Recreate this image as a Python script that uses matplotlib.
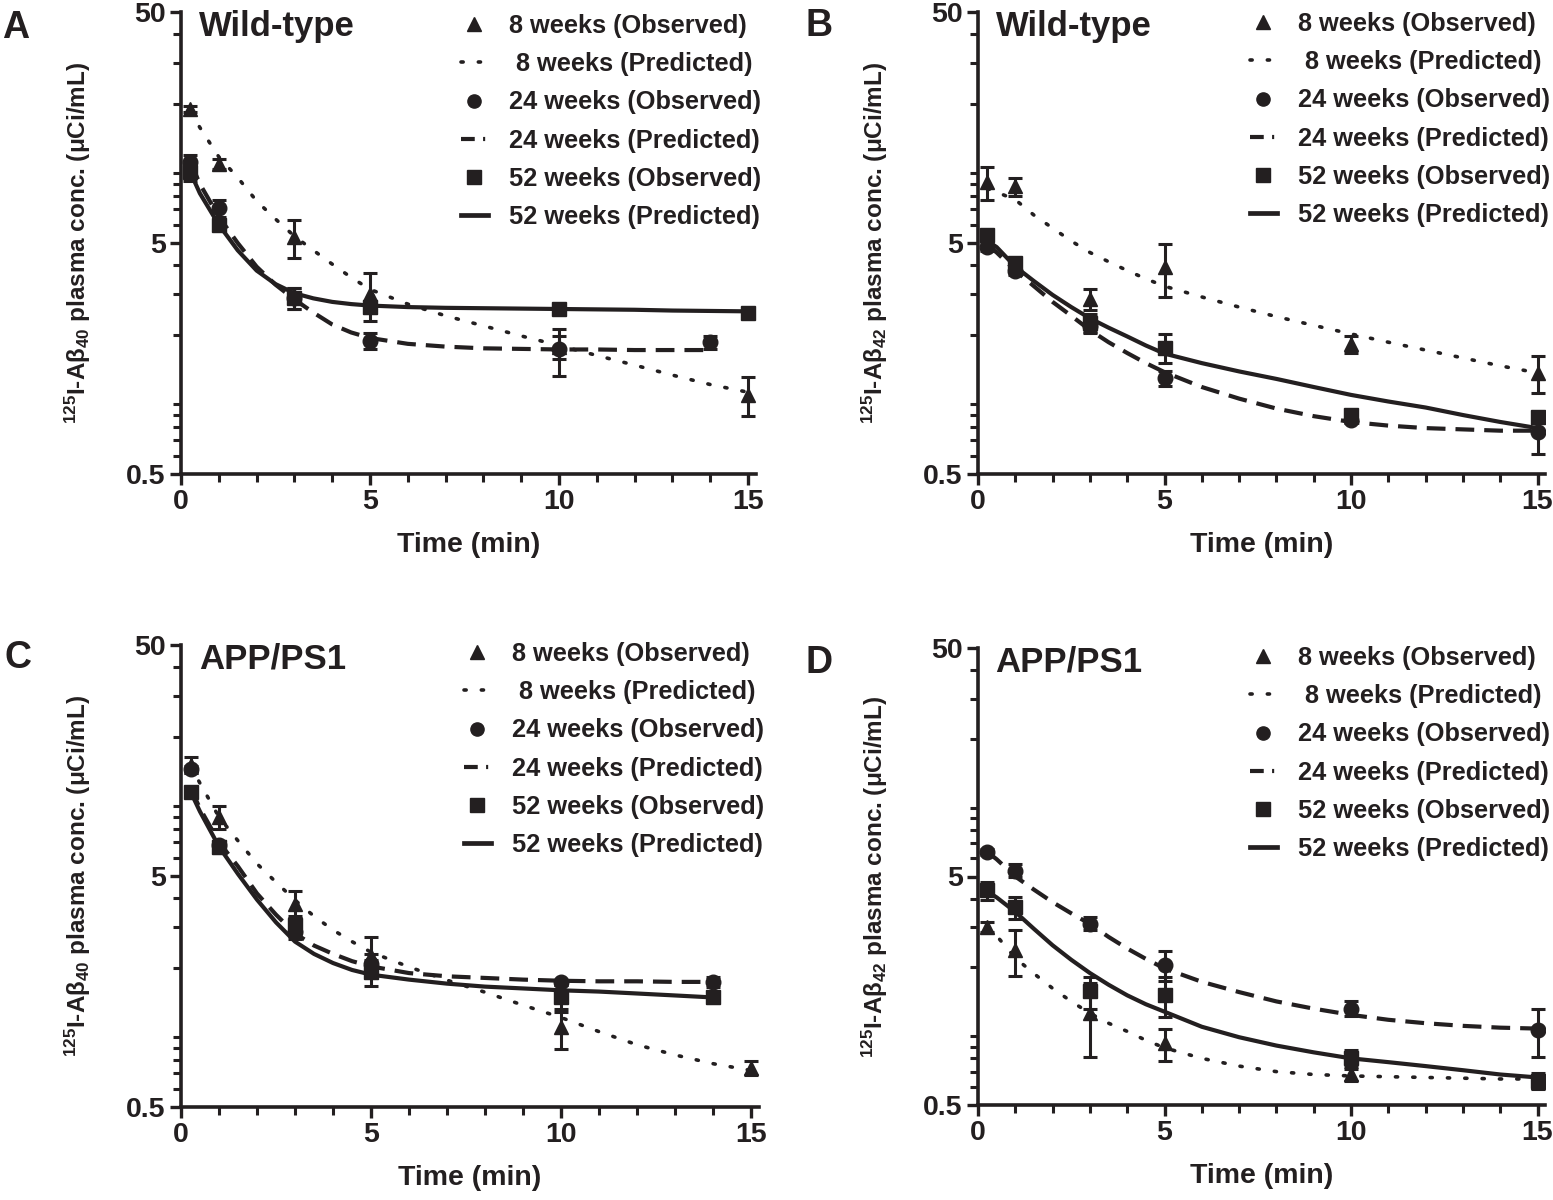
import numpy as np
import matplotlib
matplotlib.use("Agg")
import matplotlib.pyplot as plt
from matplotlib.lines import Line2D
from matplotlib.ticker import FixedLocator, NullFormatter, MultipleLocator

plt.rcParams['font.family'] = ['Liberation Sans', 'DejaVu Sans']
plt.rcParams['font.weight'] = 'bold'
plt.rcParams['mathtext.fontset'] = 'custom'
plt.rcParams['mathtext.rm'] = 'Liberation Sans:bold'
plt.rcParams['mathtext.bf'] = 'Liberation Sans:bold'
plt.rcParams['mathtext.it'] = 'Liberation Sans:bold'

INK = '#231f20'
W, H = 1553, 1200

# sampling times (min)
t_obs = [0.25, 1, 3, 5, 10, 15]
t_obs14 = [0.25, 1, 3, 5, 10, 14]
t_fit = [0.25, 0.5, 1, 1.5, 2, 2.5, 3, 3.5, 4, 4.5, 5, 6, 7, 8, 9, 10, 11, 12, 13, 14, 15]
t_fit14 = t_fit[:-1]

# Panel A - Wild-type, Abeta40
A_obs8 = [19.0, 11.0, 5.3, 3.0, 1.78, 1.1]
A_err8 = [0.5, 0.5, 1.0, 0.7, 0.2, 0.21]
A_obs24 = [11.2, 7.1, 2.9, 1.89, 1.73, 1.86]
A_err24 = [0.8, 0.6, 0.3, 0.15, 0.4, 0.12]
A_obs52 = [10.1, 6.0, 2.9, 2.63, 2.6, 2.5]
A_err52 = [0.8, 0.3, 0.3, 0.15, 0.08, 0.08]
A_fit8 = [18.5, 15.8, 11.8, 9.6, 7.6, 6.35, 5.35, 4.65, 4.05, 3.55, 3.15, 2.72, 2.42, 2.19,
          1.98, 1.80, 1.63, 1.48, 1.34, 1.22, 1.13]
A_fit24 = [11.2, 9.0, 6.5, 5.0, 3.95, 3.3, 2.85, 2.5, 2.22, 2.05, 1.94, 1.83, 1.78, 1.75,
           1.74, 1.73, 1.73, 1.72, 1.72, 1.72]
A_fit52 = [10.1, 8.2, 6.0, 4.65, 3.8, 3.32, 3.03, 2.88, 2.78, 2.72, 2.68, 2.64, 2.62, 2.61,
           2.60, 2.59, 2.58, 2.57, 2.55, 2.54, 2.53]

# Panel B - Wild-type, Abeta42
B_obs8 = [9.2, 8.8, 2.86, 3.93, 1.82, 1.37]
B_err8 = [1.5, 0.8, 0.3, 1.0, 0.15, 0.25]
B_obs24 = [4.8, 3.8, 2.19, 1.30, 0.86, 0.76]
B_err24 = [0.2, 0.15, 0.15, 0.1, 0.03, 0.15]
B_obs52 = [5.4, 4.1, 2.26, 1.76, 0.90, 0.88]
B_err52 = [0.3, 0.2, 0.2, 0.25, 0.03, 0.05]
B_fit8 = [8.6, 8.3, 7.7, 6.6, 5.8, 5.1, 4.55, 4.15, 3.8, 3.5, 3.25, 2.92, 2.64, 2.40,
          2.20, 2.02, 1.86, 1.72, 1.59, 1.47, 1.37]
B_fit24 = [4.9, 4.55, 3.8, 3.25, 2.78, 2.42, 2.1, 1.86, 1.67, 1.51, 1.38, 1.19, 1.06, 0.96,
           0.89, 0.84, 0.81, 0.79, 0.78, 0.77, 0.77]
B_fit52 = [5.1, 4.8, 3.95, 3.42, 2.98, 2.64, 2.36, 2.15, 1.97, 1.8, 1.66, 1.51, 1.39, 1.29,
           1.19, 1.10, 1.03, 0.97, 0.90, 0.84, 0.79]

# Panel C - APP/PS1, Abeta40
C_obs8 = [15.1, 9.0, 3.8, 2.26, 1.11, 0.74]
C_err8 = [1.2, 1.0, 0.5, 0.45, 0.22, 0.05]
C_obs24 = [14.5, 6.8, 2.86, 2.09, 1.73, 1.74]
C_err24 = [0.5, 0.3, 0.2, 0.2, 0.05, 0.08]
C_obs52 = [11.6, 6.7, 3.06, 1.92, 1.49, 1.49]
C_err52 = [0.5, 0.4, 0.3, 0.25, 0.2, 0.08]
C_fit8 = [15.0, 12.6, 9.0, 7.1, 5.65, 4.7, 3.93, 3.35, 2.92, 2.6, 2.34, 2.02, 1.77, 1.57,
          1.38, 1.22, 1.06, 0.93, 0.84, 0.77, 0.72]
C_fit24 = [12.0, 9.8, 7.0, 5.5, 4.2, 3.4, 2.82, 2.5, 2.3, 2.14, 2.03, 1.9, 1.84, 1.81,
           1.78, 1.76, 1.75, 1.75, 1.74, 1.74]
C_fit52 = [11.6, 9.5, 6.7, 5.1, 3.95, 3.15, 2.6, 2.3, 2.1, 1.96, 1.87, 1.78, 1.71, 1.66,
           1.63, 1.60, 1.58, 1.55, 1.52, 1.49]

# Panel D - APP/PS1, Abeta42
D_obs8 = [3.0, 2.38, 1.26, 0.93, 0.68, 0.63]
D_err8 = [0.15, 0.55, 0.45, 0.15, 0.04, 0.03]
D_obs24 = [6.4, 5.3, 3.11, 2.05, 1.32, 1.06]
D_err24 = [0.2, 0.35, 0.2, 0.3, 0.1, 0.25]
D_obs52 = [4.35, 3.67, 1.57, 1.51, 0.80, 0.64]
D_err52 = [0.4, 0.4, 0.25, 0.3, 0.07, 0.05]
D_fit8 = [3.0, 2.75, 2.2, 1.88, 1.62, 1.42, 1.26, 1.14, 1.05, 0.96, 0.89, 0.80, 0.74, 0.70,
          0.68, 0.67, 0.665, 0.66, 0.655, 0.65, 0.65]
D_fit24 = [6.4, 5.95, 5.0, 4.38, 3.86, 3.45, 3.1, 2.72, 2.42, 2.18, 1.98, 1.73, 1.56, 1.42,
           1.32, 1.24, 1.18, 1.14, 1.11, 1.09, 1.08]
D_fit52 = [4.3, 4.05, 3.5, 2.95, 2.5, 2.16, 1.89, 1.68, 1.51, 1.38, 1.28, 1.10, 0.99, 0.91,
           0.85, 0.80, 0.77, 0.74, 0.71, 0.68, 0.66]

legend_labels = ['8 weeks (Observed)', ' 8 weeks (Predicted)', '24 weeks (Observed)',
                 '24 weeks (Predicted)', '52 weeks (Observed)', '52 weeks (Predicted)']

DOT = (0, (0.6, 4.2))
DASH = (0, (4.5, 2.4))
DASH_KEY = (0, (3.3, 2.0, 0.5, 10))

# layout in pixels: axes (left, y of 0.5, px per min, y of 50), legend corner, letter corner
panels = [
    dict(letter='A', title='Wild-type', sub='40', ax_px=(181, 474, 37.8, 12), leg_px=(461, 14), let_px=(2, 10),
         t24=t_obs14, tf24=t_fit14, t52=t_obs, tf52=t_fit,
         o8=A_obs8, e8=A_err8, o24=A_obs24, e24=A_err24, o52=A_obs52, e52=A_err52,
         f8=A_fit8, f24=A_fit24, f52=A_fit52),
    dict(letter='B', title='Wild-type', sub='42', ax_px=(978, 474, 37.3, 12), leg_px=(1250, 12), let_px=(805, 8),
         t24=t_obs, tf24=t_fit, t52=t_obs, tf52=t_fit,
         o8=B_obs8, e8=B_err8, o24=B_obs24, e24=B_err24, o52=B_obs52, e52=B_err52,
         f8=B_fit8, f24=B_fit24, f52=B_fit52),
    dict(letter='C', title='APP/PS1', sub='40', ax_px=(181, 1107, 38.0, 645), leg_px=(464, 642), let_px=(4, 640),
         t24=t_obs14, tf24=t_fit14, t52=t_obs14, tf52=t_fit14,
         o8=C_obs8, e8=C_err8, o24=C_obs24, e24=C_err24, o52=C_obs52, e52=C_err52,
         f8=C_fit8, f24=C_fit24, f52=C_fit52),
    dict(letter='D', title='APP/PS1', sub='42', ax_px=(978, 1105, 37.3, 648), leg_px=(1250, 646), let_px=(805, 645),
         t24=t_obs, tf24=t_fit, t52=t_obs, tf52=t_fit,
         o8=D_obs8, e8=D_err8, o24=D_obs24, e24=D_err24, o52=D_obs52, e52=D_err52,
         f8=D_fit8, f24=D_fit24, f52=D_fit52),
]

fig = plt.figure(figsize=(W / 100, H / 100), dpi=100)

for p in panels:
    x0, yb, ppm, yt = p['ax_px']
    ax = fig.add_axes([x0 / W, 1 - yb / H, ppm * 15.2 / W, (yb - yt) / H])
    ebk = dict(color=INK, capsize=5, elinewidth=2.2, capthick=2.2, linestyle='none', markersize=10.5)
    ax.plot(t_fit, p['f8'], color=INK, lw=2.6, linestyle=DOT, dash_capstyle='round')
    ax.plot(p['tf24'], p['f24'], color=INK, lw=3.0, linestyle=DASH)
    ax.plot(p['tf52'], p['f52'], color=INK, lw=3.0, linestyle='-')
    ax.errorbar(t_obs, p['o8'], yerr=p['e8'], marker='^', **ebk)
    ax.errorbar(p['t24'], p['o24'], yerr=p['e24'], marker='o', **ebk)
    ax.errorbar(p['t52'], p['o52'], yerr=p['e52'], marker='s', **ebk)

    ax.set_yscale('log')
    ax.set_ylim(0.5, 50)
    ax.set_xlim(0, 15.2)
    ax.yaxis.set_major_locator(FixedLocator([0.5, 5, 50]))
    ax.yaxis.set_minor_locator(FixedLocator([0.6, 0.7, 0.8, 0.9, 1, 2, 3, 4, 6, 7, 8, 9, 10, 20, 30, 40]))
    ax.yaxis.set_minor_formatter(NullFormatter())
    ax.set_yticklabels(['0.5', '5', '50'])
    ax.xaxis.set_major_locator(FixedLocator([0, 5, 10, 15]))
    ax.xaxis.set_minor_locator(MultipleLocator(1))

    for s in ['top', 'right']:
        ax.spines[s].set_visible(False)
    for s in ['left', 'bottom']:
        ax.spines[s].set_linewidth(2.6)
        ax.spines[s].set_color(INK)
    ax.tick_params(which='major', length=8, width=2.4, color=INK, labelsize=20.5, pad=3)
    ax.tick_params(which='minor', length=5.5, width=2.2, color=INK)
    for lab in ax.get_xticklabels() + ax.get_yticklabels():
        lab.set_fontweight('bold')
        lab.set_color(INK)

    ax.set_xlabel('Time (min)', fontsize=20.5, fontweight='bold', color=INK, labelpad=12)
    ax.set_ylabel(r'$^{125}$I-A$\beta_{' + p['sub'] + r'}$ plasma conc. ($\mu$Ci/mL)',
                  fontsize=17.5, fontweight='bold', color=INK, labelpad=24)
    ax.text(0.031, 1.005, p['title'], transform=ax.transAxes, fontsize=25,
            fontweight='bold', color=INK, va='top', ha='left')
    fig.text(p['let_px'][0] / W, 1 - p['let_px'][1] / H, p['letter'],
             fontsize=27, fontweight='bold', color=INK, va='top', ha='left')

    handles = [
        Line2D([], [], color=INK, marker='^', linestyle='none', markersize=9.5),
        Line2D([], [], color=INK, lw=2.6, linestyle=DOT, dash_capstyle='round'),
        Line2D([], [], color=INK, marker='o', linestyle='none', markersize=9.5),
        Line2D([], [], color=INK, lw=3.0, linestyle=DASH_KEY),
        Line2D([], [], color=INK, marker='s', linestyle='none', markersize=9.5),
        Line2D([], [], color=INK, lw=3.4, linestyle='-'),
    ]
    leg = ax.legend(handles, legend_labels, loc='upper left',
                    bbox_to_anchor=(p['leg_px'][0] / W, 1 - p['leg_px'][1] / H),
                    bbox_transform=fig.transFigure, frameon=False, fontsize=18.3,
                    labelspacing=0.56, handlelength=1.05, handletextpad=0.85,
                    borderpad=0, borderaxespad=0)
    for txt in leg.get_texts():
        txt.set_fontweight('bold')
        txt.set_color(INK)

fig.savefig('out.png', dpi=100)
